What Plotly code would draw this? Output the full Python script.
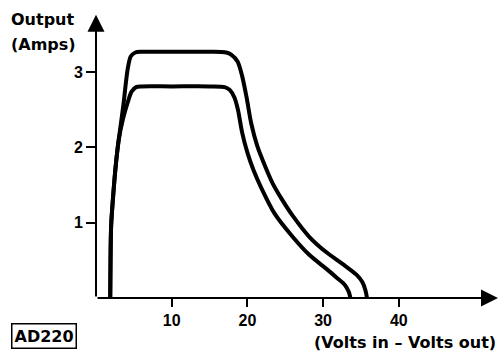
import plotly.graph_objects as go

# Data (x: Volts in - Volts out, y: Output Amps)
x_upper = [1.88, 1.92, 2.0, 2.3, 2.65, 3.0, 3.6, 4.2, 4.6, 5.2, 6.0, 10.0, 15.0, 17.2, 17.9, 18.7,
           19.3, 19.9, 20.5, 21.3, 22.3, 23.3, 24.5, 26.0, 28.2, 30.4, 32.6, 34.4, 35.2, 35.6, 35.8]
y_upper = [0.0, 0.5, 0.96, 1.4, 1.8, 2.1, 2.55, 3.05, 3.21, 3.26, 3.27, 3.27, 3.27, 3.26, 3.23, 3.14,
           2.95, 2.66, 2.32, 2.02, 1.76, 1.53, 1.32, 1.09, 0.81, 0.61, 0.45, 0.31, 0.21, 0.1, 0.0]

x_lower = [1.88, 1.92, 2.0, 2.3, 2.65, 3.0, 3.57, 4.2, 4.7, 5.3, 6.0, 10.0, 15.0, 17.0, 17.7, 18.3,
           18.75, 19.3, 20.0, 20.8, 21.8, 23.6, 26.0, 28.2, 30.4, 31.8, 32.9, 33.4, 33.6]
y_lower = [0.0, 0.5, 0.96, 1.4, 1.8, 2.1, 2.38, 2.6, 2.74, 2.8, 2.81, 2.81, 2.81, 2.8, 2.76, 2.66,
           2.5, 2.2, 1.93, 1.7, 1.47, 1.12, 0.81, 0.57, 0.39, 0.27, 0.17, 0.08, 0.0]

x_ticks = [10, 20, 30, 40]
y_ticks = [1, 2, 3]

TITLE_FONT = dict(family="DejaVu Sans", size=16, color="black", weight="bold")
TICK_FONT = dict(family="Liberation Sans", size=16, color="black", weight="bold")

fig = go.Figure()
for xs, ys in [(x_upper, y_upper), (x_lower, y_lower)]:
    fig.add_trace(go.Scatter(x=xs, y=ys, mode="lines",
                             line=dict(color="black", width=4, shape="spline", smoothing=0.8),
                             hoverinfo="skip", showlegend=False))

x_max = 404 / 7.57
y_max = 288 / 75.3

fig.update_layout(
    width=500, height=352,
    margin=dict(l=96, r=0, t=10, b=54),
    paper_bgcolor="white", plot_bgcolor="white",
    font=dict(family="DejaVu Sans", size=14, color="black"),
    xaxis=dict(range=[0, x_max], tickvals=x_ticks, ticks="outside", ticklen=8,
               tickwidth=1.5, tickcolor="black", showgrid=False, zeroline=False,
               showline=False, tickfont=TICK_FONT),
    yaxis=dict(range=[0, y_max], tickvals=y_ticks, ticks="outside", ticklen=9,
               tickwidth=1.5, tickcolor="black", showgrid=False, zeroline=False,
               showline=False, tickfont=TICK_FONT),
)

# Axis arrows
fig.add_annotation(x=0, y=3.76, ax=0, ay=0, xref="x", yref="y", axref="x", ayref="y",
                   text="", showarrow=True, arrowhead=2, arrowsize=1.7, arrowwidth=2,
                   arrowcolor="black", standoff=0, startstandoff=0)
fig.add_annotation(x=53.1, y=0, ax=0, ay=0, xref="x", yref="y", axref="x", ayref="y",
                   text="", showarrow=True, arrowhead=2, arrowsize=1.7, arrowwidth=2,
                   arrowcolor="black", standoff=0, startstandoff=0)

def px(xp):
    return (xp - 96) / 404

def py(yp):
    return (298 - yp) / 288

fig.add_annotation(x=px(9), y=py(20), xref="paper", yref="paper", text="Output",
                   showarrow=False, xanchor="left", yanchor="middle", font=TITLE_FONT)
fig.add_annotation(x=px(9), y=py(44), xref="paper", yref="paper", text="(Amps)",
                   showarrow=False, xanchor="left", yanchor="middle", font=TITLE_FONT)
fig.add_annotation(x=px(498), y=py(342), xref="paper", yref="paper",
                   text="(Volts in \u2013 Volts out)",
                   showarrow=False, xanchor="right", yanchor="middle", font=TITLE_FONT)
fig.add_annotation(x=px(43.5), y=py(336), xref="paper", yref="paper", text="AD220",
                   showarrow=False, xanchor="center", yanchor="middle",
                   bordercolor="black", borderwidth=1.5, borderpad=2, font=TITLE_FONT)

fig.write_html("out.html", config={"displayModeBar": False},
               post_script="document.body.style.margin='0';")
